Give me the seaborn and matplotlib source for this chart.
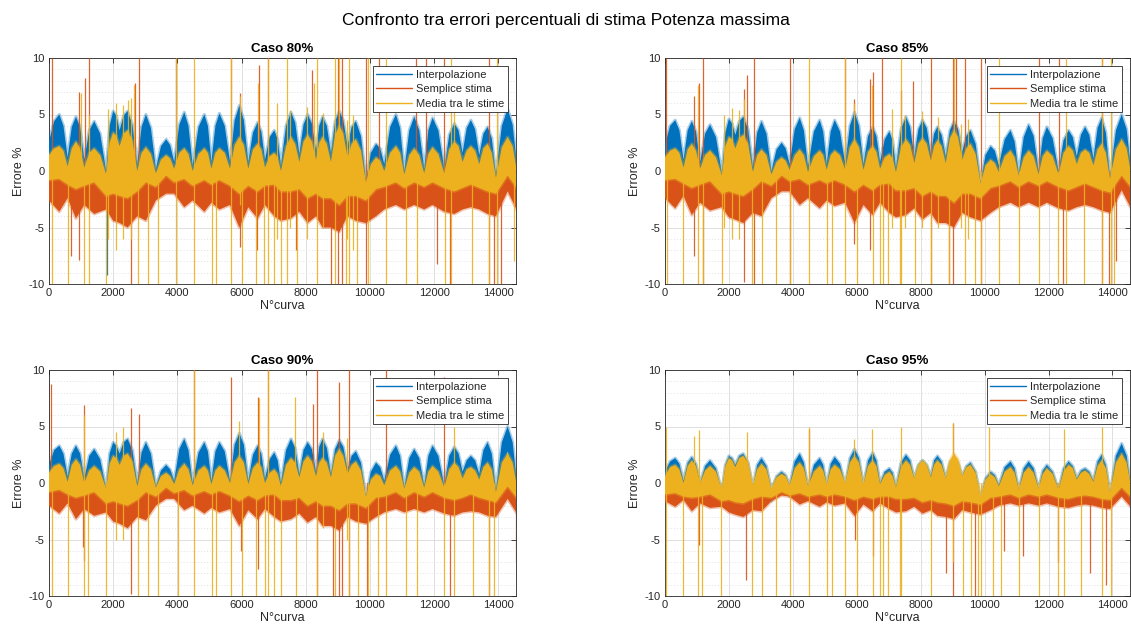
import matplotlib
matplotlib.use("Agg")
import matplotlib.pyplot as plt
from matplotlib.lines import Line2D
from matplotlib.ticker import MultipleLocator
import seaborn as sns

# Curve index at the alternating troughs/crests of the error pattern
curve_knots = [0, 320, 580, 840, 1100, 1410, 1780, 2000, 2200, 2450, 2750, 3020, 3330,
               3650, 3900, 4215, 4475, 4840, 5060, 5310, 5640, 5930, 6210, 6500, 6730,
               7020, 7227, 7540, 7800, 8060, 8320, 8525, 8785, 9045, 9300, 9560, 9875,
               10190, 10445, 10810, 11070, 11380, 11690, 11950, 12315, 12630, 12885,
               13145, 13405, 13665, 13925, 14290, 14600]
# Curve index of the arch shoulders, one between each pair of knots above
shoulder_knots = [160, 450, 710, 970, 1255, 1595, 1890, 2100, 2325, 2600, 2885, 3175, 3490,
                  3775, 4060, 4345, 4660, 4950, 5185, 5475, 5785, 6070, 6355, 6615, 6875, 7125,
                  7385, 7670, 7930, 8190, 8420, 8655, 8915, 9170, 9430, 9720, 10030, 10320,
                  10630, 10940, 11225, 11535, 11820, 12130, 12470, 12760, 13015, 13275, 13535,
                  13795, 14110, 14445]

cases = ["Caso 80%", "Caso 85%", "Caso 90%", "Caso 95%"]
series_names = ["Interpolazione", "Semplice stima", "Media tra le stime"]

# ---------------- Caso 80% ----------------
interp_hi_80 = [2.6, 5.0, 1.2, 4.8, 1.0, 4.4, 0.0, 5.3, 3.6, 5.3, 0.6, 5.0, 0.2, 2.8, 0.8, 5.2, 0.5, 5.0,
                0.8, 5.1, 0.8, 5.8, 0.8, 4.3, 1.0, 3.6, 0.5, 5.2, 1.5, 5.0, 1.8, 4.8, 1.6, 5.3, 2.2, 4.4,
                -0.8, 2.4, 0.6, 5.0, 0.0, 4.8, 0.2, 4.7, 0.2, 4.2, 1.6, 4.5, 1.4, 3.9, -0.3, 5.5, 0.0]
interp_sh_80 = [4.4, 4.0, 3.9, 3.9, 3.6, 3.3, 4.0, 4.9, 4.9, 4.1, 3.9, 3.8, 2.2, 2.3, 4.1, 4.0, 3.9, 4.0,
                4.0, 4.0, 4.5, 4.5, 3.4, 3.5, 3.0, 2.8, 4.0, 4.3, 4.1, 4.2, 4.0, 4.0, 4.4, 4.5, 3.9, 3.1,
                1.6, 2.0, 3.9, 3.8, 3.6, 3.6, 3.6, 3.6, 3.2, 3.6, 3.8, 3.7, 3.3, 2.9, 4.0, 4.1]
interp_lo_80 = [0.6, 1.8, 0.2, 1.6, 0.0, 1.3, -1.0, 2.0, 1.6, 2.0, -0.4, 1.8, -0.8, 0.8, -0.2, 2.0, -0.5, 1.8,
                -0.2, 1.9, -0.2, 2.4, -0.2, 1.2, 0.0, 0.8, -0.5, 2.0, 0.5, 1.8, 0.8, 1.6, 0.6, 2.0, 1.2, 1.2,
                -1.8, 0.6, -0.4, 1.8, -1.0, 1.6, -0.8, 1.5, -0.8, 1.1, 0.6, 1.4, 0.4, 0.9, -1.3, 2.3, -1.0]
stima_hi_80 = [-0.5, -0.4, -0.9, -1.0, -1.0, -0.7, -1.6, -1.2, -1.5, -1.4, -1.4, -0.7, -1.1, -0.1, -0.6,
               -0.4, -1.0, -0.5, -0.9, -0.5, -1.0, -1.2, -1.0, -1.2, -1.0, -0.9, -1.5, -1.2, -1.3, -1.6,
               -1.6, -1.6, -1.8, -2.0, -1.8, -1.6, -2.2, -1.3, -1.2, -0.8, -1.2, -0.8, -1.1, -0.8, -1.2,
               -1.3, -1.2, -0.9, -1.2, -1.1, -1.8, 0.5, -1.4]
stima_lo_80 = [-2.6, -3.6, -2.4, -4.2, -3.0, -3.8, -3.4, -4.4, -4.6, -5.0, -4.0, -4.4, -2.6, -2.0, -2.0,
               -3.2, -2.6, -3.6, -2.8, -3.4, -3.0, -5.0, -3.2, -4.2, -3.0, -4.0, -4.4, -4.2, -3.6, -4.6,
               -4.0, -5.0, -5.0, -5.4, -4.0, -4.4, -4.6, -4.0, -3.4, -3.0, -3.4, -3.0, -3.4, -3.0, -3.6,
               -3.8, -3.4, -3.2, -3.4, -3.8, -4.0, -1.8, -3.6]
media_hi_80 = [1.4, 2.2, 0.4, 2.6, 0.3, 2.0, -0.3, 3.4, 2.2, 3.6, 0.0, 2.1, -0.2, 1.4, 0.2, 2.0, 0.0, 2.0,
               0.2, 2.0, 0.2, 3.0, 0.2, 2.4, 0.3, 1.6, 0.0, 3.0, 0.8, 3.2, 1.0, 3.0, 0.8, 4.0, 1.2, 2.8,
               -1.0, 1.2, 0.0, 2.2, -0.3, 2.0, -0.2, 2.1, -0.2, 2.6, 0.8, 2.2, 0.6, 2.4, -0.6, 3.0, -0.4]
media_sh_80 = [2.0, 1.8, 2.0, 2.0, 1.6, 1.4, 2.5, 3.1, 3.3, 2.7, 1.6, 1.5, 1.0, 1.1, 1.6, 1.5, 1.5, 1.6,
               1.6, 1.6, 2.3, 2.3, 1.9, 1.9, 1.3, 1.2, 2.2, 2.4, 2.6, 2.6, 2.5, 2.4, 3.2, 3.3, 2.4, 1.8,
               0.6, 0.9, 1.6, 1.6, 1.4, 1.4, 1.5, 1.5, 1.9, 2.2, 1.8, 1.8, 2.0, 1.6, 2.1, 2.2]
media_lo_80 = [-0.8, -0.7, -1.2, -1.6, -1.3, -1.0, -2.2, -2.0, -2.2, -2.4, -1.8, -1.0, -1.4, -0.4, -1.0,
               -0.7, -1.3, -0.8, -1.2, -0.8, -1.3, -2.0, -1.3, -1.8, -1.3, -1.2, -1.8, -1.8, -1.6, -2.4,
               -2.0, -2.4, -2.4, -3.0, -2.2, -2.2, -2.6, -1.6, -1.4, -1.0, -1.5, -1.0, -1.4, -1.0, -1.5,
               -1.8, -1.5, -1.2, -1.5, -1.8, -2.0, -0.4, -1.6]
# isolated outliers: (curve, from, to)
interp_spikes_80 = [(1796, -9.2, 0.0)]
stima_spikes_80 = [(95, 0, 10), (690, -7.5, 0), (945, -7.9, 7.0), (1120, 0, 8.2), (1250, 0, 10),
                   (2550, -10, 0), (2680, 0, 7.8), (2810, 0, 10), (3950, 0, 10), (5670, 0, 10),
                   (5960, -6.7, 6.9), (6470, -7.0, 0), (6540, 0, 9.4), (6810, 0, 10), (7690, -7.0, 0),
                   (8200, 0, 8.9), (8780, -10, 0), (9000, -10, 10), (9120, -10, 10), (9880, -10, 10),
                   (10280, 0, 10), (11430, 0, 10), (11740, 0, 10), (12100, -8.2, 0), (12310, 0, 10),
                   (12500, -10, 0), (13700, -10, 10), (13880, -10, 0), (14070, -10, 0)]
media_spikes_80 = [(90, -10, 0), (580, -10, 0), (990, 0, 6.9), (1080, -10, 0), (1250, -10, 5.0),
                   (1780, -10, 0), (1850, -6, 5.5), (2100, -7, 6.0), (2300, -6, 5.8), (2470, 0, 6.3),
                   (2560, -6, 6.5), (2650, 0, 7.6), (2760, -10, 0), (3070, -10, 0),
                   (3390, -10, 0), (3950, -10, 10), (4520, -10, 10), (5090, -10, 0), (5200, -10, 0),
                   (5670, -10, 10), (5950, -3, 6.6), (6010, -10, 0), (6450, -10, 0), (6520, 0, 7.8),
                   (6710, -10, 0), (6810, -10, 10), (7020, -10, 0), (7090, -6, 6.0), (7230, -10, 0),
                   (7410, -10, 10), (7507, -5, 5.4), (7730, -10, 0), (8026, -6, 5.7), (8250, 0, 7.8),
                   (8350, -10, 10), (8545, -5, 5.1), (8910, -10, 10), (9050, 0, 10),
                   (9250, -10, 0), (9270, -6, 4.5), (9360, -10, 10), (9480, -7, 5.0), (9610, -10, 0),
                   (9940, -10, 10), (10500, -10, 10),
                   (11120, -10, 0), (11450, -10, 0), (12330, -10, 0), (12540, -10, 10), (12620, 0, 7.8),
                   (13170, -10, 0), (13720, -10, 0), (13970, -10, 10), (14480, -8, 0)]

# ---------------- Caso 85% ----------------
interp_hi_85 = [2.3, 4.5, 1.0, 4.4, 0.8, 4.1, -0.2, 4.6, 3.2, 4.8, 0.4, 4.4, 0.0, 2.5, 0.6, 4.7, 0.4, 4.5,
                0.6, 4.5, 0.6, 5.2, 0.6, 3.9, 0.8, 3.5, 0.3, 4.8, 1.3, 4.5, 1.5, 3.9, 1.3, 4.4, 1.7, 3.6,
                -1.0, 2.2, 0.5, 3.6, -0.2, 4.1, 0.0, 3.9, 0.0, 3.6, 1.3, 3.9, 1.1, 4.7, -0.5, 5.0, -0.3]
interp_sh_85 = [4.0, 3.6, 3.6, 3.5, 3.3, 3.0, 3.4, 4.2, 4.4, 3.7, 3.4, 3.3, 1.9, 2.0, 3.7, 3.6, 3.5, 3.5,
                3.5, 3.5, 4.0, 4.0, 3.1, 3.1, 2.8, 2.7, 3.7, 3.9, 3.7, 3.8, 3.3, 3.2, 3.6, 3.7, 3.1, 2.4,
                1.4, 1.8, 2.8, 2.6, 3.0, 3.1, 2.9, 2.9, 2.7, 3.0, 3.2, 3.2, 3.8, 3.4, 3.6, 3.7]
interp_lo_85 = [0.4, 1.6, 0.0, 1.5, -0.2, 1.2, -1.2, 1.7, 1.4, 1.9, -0.6, 1.5, -1.0, 0.6, -0.4, 1.8, -0.6, 1.6,
                -0.4, 1.6, -0.4, 2.3, -0.4, 1.0, -0.2, 0.6, -0.7, 1.9, 0.3, 1.6, 0.5, 1.0, 0.3, 1.5, 0.7, 0.7,
                -2.0, 0.4, -0.5, 0.7, -1.2, 1.2, -1.0, 1.0, -1.0, 0.7, 0.3, 1.0, 0.1, 1.8, -1.5, 2.1, -1.3]
stima_hi_85 = [-0.5, -0.4, -0.8, -1.0, -0.9, -0.6, -1.5, -1.1, -1.4, -1.3, -1.3, -0.6, -1.0, -0.1, -0.6,
               -0.4, -0.9, -0.5, -0.8, -0.5, -0.9, -1.1, -0.9, -1.1, -0.9, -0.8, -1.4, -1.1, -1.2, -1.5,
               -1.5, -1.5, -1.7, -1.9, -1.7, -1.5, -2.0, -1.2, -1.1, -0.7, -1.1, -0.7, -1.0, -0.7, -1.1,
               -1.2, -1.1, -0.8, -1.1, -1.0, -1.7, 0.4, -1.3]
stima_lo_85 = [-2.4, -3.3, -2.2, -3.9, -2.8, -3.5, -3.2, -4.1, -4.3, -4.6, -3.7, -4.0, -2.4, -1.8, -1.8,
               -3.0, -2.4, -3.3, -2.6, -3.1, -2.8, -4.6, -3.0, -3.9, -2.8, -3.7, -4.1, -3.9, -3.3, -4.3,
               -3.7, -4.6, -4.6, -5.0, -3.7, -4.1, -4.4, -3.7, -3.2, -2.8, -3.2, -2.8, -3.2, -2.8, -3.3,
               -3.5, -3.2, -3.0, -3.2, -3.5, -3.7, -1.7, -3.4]
media_hi_85 = [1.2, 2.0, 0.3, 2.4, 0.2, 1.8, -0.4, 3.0, 2.0, 3.2, -0.1, 1.9, -0.3, 1.2, 0.1, 1.9, -0.1, 1.8,
               0.1, 1.8, 0.1, 2.8, 0.1, 2.2, 0.2, 1.5, -0.1, 2.8, 0.7, 2.9, 0.9, 2.7, 0.7, 3.6, 1.0, 2.4,
               -1.1, 1.0, -0.1, 1.8, -0.4, 1.8, -0.3, 1.8, -0.3, 2.2, 0.6, 1.9, 0.5, 2.4, -0.7, 2.8, -0.5]
media_sh_85 = [1.8, 1.6, 1.9, 1.8, 1.4, 1.2, 2.2, 2.8, 2.9, 2.4, 1.4, 1.4, 0.8, 0.9, 1.4, 1.4, 1.3, 1.4,
               1.4, 1.4, 2.1, 2.1, 1.7, 1.7, 1.2, 1.1, 2.1, 2.3, 2.4, 2.4, 2.2, 2.2, 2.9, 3.0, 2.0, 1.5,
               0.5, 0.7, 1.3, 1.2, 1.2, 1.3, 1.3, 1.3, 1.6, 1.8, 1.6, 1.6, 1.9, 1.6, 1.9, 2.0]
media_lo_85 = [-0.8, -0.7, -1.1, -1.5, -1.2, -0.9, -2.0, -1.8, -2.0, -2.2, -1.6, -0.9, -1.3, -0.4, -0.9,
               -0.7, -1.2, -0.8, -1.1, -0.8, -1.2, -1.8, -1.2, -1.7, -1.2, -1.1, -1.7, -1.7, -1.5, -2.2,
               -1.8, -2.2, -2.2, -2.8, -2.0, -2.0, -2.4, -1.5, -1.3, -0.9, -1.4, -0.9, -1.3, -0.9, -1.4,
               -1.7, -1.4, -1.1, -1.4, -1.7, -1.9, -0.4, -1.5]
interp_spikes_85 = []
stima_spikes_85 = [(40, 0, 10), (913, -7.5, 6.6), (1069, 0, 7.8), (1204, -10, 10), (2470, -9.8, 7.3),
                   (2560, 0, 8.5), (2780, -10, 10), (3925, -10, 10), (5636, 0, 10), (5900, -6.5, 6.4),
                   (6420, -7.0, 8.1), (6520, 0, 8.8), (6778, 0, 10), (7400, 0, 7.2), (7750, 0, 8.0),
                   (8337, -10, 10), (8900, -10, 0), (9010, -10, 10), (9110, 0, 10), (9375, 0, 10),
                   (9894, -10, 10), (11710, 0, 10), (12333, 0, 10), (12450, -10, 0), (13683, -10, 10),
                   (13900, -10, 0), (14100, -8, 0)]
media_spikes_85 = [(60, -10, 0), (550, -10, 0), (1030, -10, 7.6), (1180, -10, 0), (1775, -10, 0),
                   (1850, -5, 5.0), (2100, -6, 5.6), (2300, -6, 5.4), (2470, 0, 6.4), (2730, -10, 0),
                   (3040, -10, 0), (3460, -10, 0), (3925, -10, 0),
                   (4494, -10, 10), (5065, -10, 0), (5220, -10, 0), (5636, -10, 10), (5900, 0, 6.0),
                   (6000, -10, 0), (6480, 0, 7.6), (6520, -10, 0), (6725, -10, 0), (6830, -10, 0),
                   (6985, -10, 0), (7090, -5, 5.5), (7350, -10, 0), (7400, -10, 10), (7507, -5, 5.0),
                   (7818, -10, 0), (8026, -5, 5.3), (8337, -10, 0), (8545, -5, 4.8),
                   (8900, -10, 0), (9040, 0, 10), (9270, -5, 4.2), (9375, -10, 0), (9480, -6, 4.6),
                   (9687, -10, 0), (9894, -10, 0),
                   (10465, -10, 10), (11088, -10, 0), (11710, -10, 0), (12282, -10, 0), (12541, -10, 10),
                   (13112, -10, 0), (13683, -10, 10), (13942, -10, 10), (14060, -10, 0)]

# ---------------- Caso 90% ----------------
interp_hi_90 = [1.6, 3.3, 0.6, 3.3, 0.4, 3.0, -0.5, 3.6, 2.6, 3.9, 0.0, 3.6, -0.3, 1.6, 0.2, 3.9, 0.0, 3.6,
                0.2, 3.6, 0.2, 4.4, 0.2, 3.3, 0.4, 2.7, 0.0, 3.9, 0.8, 3.6, 1.0, 3.9, 0.8, 3.8, 1.2, 2.8,
                -1.2, 1.8, 0.2, 3.3, -0.4, 3.0, -0.2, 3.3, -0.2, 3.2, 1.0, 2.4, 0.8, 3.6, -0.6, 5.0, -0.5]
interp_sh_90 = [2.9, 2.6, 2.6, 2.6, 2.4, 2.1, 2.6, 3.3, 3.6, 2.9, 2.7, 2.6, 1.1, 1.2, 3.0, 2.9, 2.7, 2.8,
                2.8, 2.8, 3.4, 3.4, 2.5, 2.6, 2.1, 2.0, 2.9, 3.1, 2.9, 3.0, 3.2, 3.1, 3.0, 3.2, 2.4, 1.8,
                1.0, 1.4, 2.5, 2.4, 2.2, 2.2, 2.4, 2.4, 2.4, 2.6, 2.0, 2.0, 2.9, 2.6, 3.6, 3.6]
interp_lo_90 = [-0.2, 1.1, -0.3, 1.1, -0.5, 0.8, -1.4, 1.4, 1.2, 1.7, -0.9, 1.4, -1.2, 0.4, -0.7, 1.7, -0.9, 1.4,
                -0.7, 1.4, -0.7, 2.2, -0.7, 1.1, -0.5, 0.5, -0.9, 1.7, -0.1, 1.4, 0.1, 1.7, -0.1, 1.6, 0.3, 0.6,
                -2.1, 0.4, -0.7, 1.1, -1.3, 0.8, -1.1, 1.1, -1.1, 1.0, 0.1, 0.2, -0.1, 1.4, -1.5, 2.8, -1.4]
stima_hi_90 = [-0.5, -0.3, -0.7, -1.0, -0.8, -0.5, -1.5, -1.3, -1.5, -1.7, -1.2, -0.5, -0.9, -0.1, -0.6,
               -0.3, -0.8, -0.4, -0.7, -0.4, -0.8, -1.3, -0.8, -1.2, -0.8, -0.7, -1.2, -1.2, -1.0, -1.7,
               -1.3, -1.7, -1.7, -2.1, -1.5, -1.5, -1.9, -1.0, -0.9, -0.5, -1.0, -0.5, -0.9, -0.5, -1.0,
               -1.2, -1.0, -0.7, -1.0, -1.2, -1.4, 0.8, -1.1]
stima_lo_90 = [-2.0, -2.7, -1.8, -3.2, -2.3, -2.9, -2.6, -3.4, -3.6, -4.0, -3.0, -3.3, -2.0, -1.4, -1.4,
               -2.4, -2.0, -2.7, -2.2, -2.6, -2.3, -3.8, -2.4, -3.2, -2.3, -3.0, -3.4, -3.2, -2.7, -3.5,
               -3.0, -3.8, -3.8, -4.2, -3.0, -3.4, -3.6, -3.0, -2.6, -2.3, -2.6, -2.3, -2.6, -2.3, -2.7,
               -2.9, -2.6, -2.5, -2.6, -2.9, -3.0, -1.4, -2.8]
media_hi_90 = [0.9, 1.7, 0.1, 2.1, 0.0, 1.5, -0.5, 2.4, 1.6, 2.6, -0.3, 1.7, -0.4, 0.9, -0.1, 1.7, -0.2, 1.5,
               -0.1, 1.5, 0.0, 2.4, -0.1, 1.8, 0.0, 1.2, -0.3, 2.2, 0.5, 2.4, 0.6, 2.2, 0.5, 3.0, 0.8, 1.9,
               -1.2, 0.8, -0.2, 1.5, -0.5, 1.4, -0.4, 1.5, -0.4, 1.8, 0.4, 1.4, 0.3, 1.8, -0.8, 2.6, -0.6]
media_sh_90 = [1.5, 1.3, 1.6, 1.6, 1.1, 1.0, 1.7, 2.2, 2.4, 1.9, 1.2, 1.2, 0.6, 0.6, 1.2, 1.2, 1.1, 1.1,
               1.1, 1.1, 1.8, 1.8, 1.3, 1.4, 0.9, 0.8, 1.6, 1.8, 1.9, 1.9, 1.8, 1.8, 2.4, 2.4, 1.6, 1.1,
               0.3, 0.6, 1.1, 1.0, 0.9, 1.0, 1.0, 1.0, 1.2, 1.4, 1.2, 1.1, 1.4, 1.2, 1.8, 1.8]
media_lo_90 = [-0.8, -0.6, -1.0, -1.3, -1.1, -0.8, -1.8, -1.6, -1.8, -2.0, -1.5, -0.8, -1.2, -0.4, -0.9,
               -0.6, -1.1, -0.7, -1.0, -0.7, -1.1, -1.6, -1.1, -1.5, -1.1, -1.0, -1.5, -1.5, -1.3, -2.0,
               -1.6, -2.0, -2.0, -2.4, -1.8, -1.8, -2.2, -1.3, -1.2, -0.8, -1.3, -0.8, -1.2, -0.8, -1.3,
               -1.5, -1.3, -1.0, -1.3, -1.5, -1.7, -0.3, -1.4]
interp_spikes_90 = []
stima_spikes_90 = [(62, 0, 8.8), (1050, -5.7, 0), (1100, -6.9, 6.9), (2560, -9.8, 6.6), (2800, 0, 6.1),
                   (4526, 0, 10), (5668, 0, 9.4), (5990, -6.0, 0), (6500, -7.6, 7.6), (6830, 0, 10),
                   (8213, 0, 7.0), (8348, -10, 10), (8850, -10, 0), (9044, -10, 8.9), (9130, -10, 0),
                   (9355, -10, 10), (9905, -10, 0), (10497, 0, 10), (12313, 0, 9.4), (12500, -10, 0),
                   (13700, -10, 0), (14540, -7.0, 0)]
media_spikes_90 = [(90, -10, 0), (580, -10, 0), (1080, -10, 6.0), (1200, -10, 0), (1780, -10, 0),
                   (2100, -5, 4.5), (2300, -5, 5.0), (2760, -10, 0), (3070, -10, 0), (3390, -10, 0),
                   (4010, -10, 0), (4526, -10, 10),
                   (5090, -10, 0), (5200, -10, 0), (5668, -10, 0), (5920, 0, 5.5), (6010, -10, 0),
                   (6450, -10, 0), (6550, 0, 7.5), (6720, -10, 0), (6830, -10, 10), (7020, -10, 0),
                   (7230, -10, 0), (7650, 0, 7.6), (7694, -10, 0), (8348, -10, 0), (8545, -4, 4.5),
                   (8909, -10, 0), (9270, -5, 4.0),
                   (9355, -10, 0), (9614, -10, 0), (9945, -10, 0), (10240, -10, 0), (10497, -10, 0),
                   (11120, -10, 0), (11480, -10, 0), (12313, -10, 0), (12620, -10, 5.0), (13200, -10, 0),
                   (13720, -10, 0), (13870, -10, 0)]

# ---------------- Caso 95% ----------------
interp_hi_95 = [1.0, 2.2, 0.2, 2.3, 0.0, 2.0, -0.8, 2.4, 1.6, 2.6, -0.4, 2.2, -0.6, 1.0, -0.2, 2.6, -0.4, 2.2,
                -0.2, 2.3, -0.2, 3.0, -0.2, 2.7, 0.0, 1.3, -0.4, 2.5, 0.4, 2.0, 0.6, 2.4, 0.4, 2.2, 0.6, 1.8,
                -1.4, 1.0, -0.2, 1.9, -0.6, 1.9, -0.5, 1.6, -0.6, 1.9, 0.4, 1.3, 0.2, 2.5, -1.0, 3.5, -0.8]
interp_sh_95 = [1.9, 1.7, 1.8, 1.7, 1.5, 1.3, 1.6, 2.2, 2.4, 1.8, 1.6, 1.5, 0.6, 0.7, 1.9, 1.8, 1.6, 1.6,
                1.7, 1.7, 2.2, 2.2, 2.0, 2.0, 1.0, 0.9, 1.8, 2.0, 1.6, 1.6, 2.0, 1.9, 1.8, 1.8, 1.5, 1.0,
                0.4, 0.7, 1.4, 1.3, 1.3, 1.3, 1.1, 1.0, 1.3, 1.5, 1.1, 1.0, 1.9, 1.6, 2.4, 2.4]
interp_lo_95 = [-0.4, 0.6, -0.8, 0.7, -1.0, 0.4, -1.8, 0.8, 0.6, 1.0, -1.2, 0.6, -1.6, 0.0, -1.2, 1.0, -1.4, 0.6,
                -1.2, 0.7, -1.2, 1.4, -1.2, 1.1, -1.0, 0.3, -1.4, 0.9, -0.6, 0.4, -0.4, 0.8, -0.6, 0.6, -0.4, 0.2,
                -2.4, 0.0, -1.2, 0.3, -1.6, 0.3, -1.5, 0.0, -1.6, 0.3, -0.6, -0.3, -0.8, 0.9, -2.0, 1.9, -1.8]
stima_hi_95 = [-0.7, -0.6, -0.9, -1.0, -0.9, -0.7, -1.3, -1.2, -1.4, -1.5, -1.1, -0.9, -1.0, -0.5, -0.8,
               -0.6, -0.9, -0.7, -0.9, -0.7, -0.9, -1.2, -0.9, -1.1, -0.9, -0.9, -1.1, -1.1, -1.0, -1.4,
               -1.2, -1.4, -1.5, -1.7, -1.3, -1.4, -1.6, -1.0, -0.9, -0.7, -1.0, -0.7, -0.9, -0.7, -1.0,
               -1.1, -0.9, -0.8, -0.9, -1.1, -1.2, 0.9, -1.0]
stima_lo_95 = [-1.6, -2.1, -1.5, -2.5, -1.8, -2.2, -2.1, -2.6, -2.8, -3.0, -2.4, -2.5, -1.6, -1.1, -1.2,
               -1.9, -1.6, -2.1, -1.7, -2.0, -1.8, -2.9, -1.9, -2.5, -1.8, -2.3, -2.6, -2.5, -2.1, -2.7,
               -2.4, -2.9, -3.0, -3.2, -2.4, -2.6, -2.8, -2.4, -2.0, -1.8, -2.0, -1.8, -2.0, -1.8, -2.1,
               -2.2, -2.0, -1.9, -2.0, -2.2, -2.3, -1.2, -2.2]
media_hi_95 = [0.6, 1.6, 0.0, 2.0, 0.0, 1.5, -0.6, 2.2, 1.4, 2.4, -0.2, 1.7, -0.5, 0.8, -0.2, 1.8, -0.3, 1.5,
               -0.1, 1.6, 0.0, 2.4, -0.1, 2.0, -0.1, 1.0, -0.4, 2.0, 0.4, 2.0, 0.5, 2.0, 0.4, 2.6, 0.6, 1.6,
               -1.2, 0.8, -0.3, 1.4, -0.6, 1.4, -0.5, 1.3, -0.6, 1.6, 0.3, 1.1, 0.1, 2.0, -0.8, 2.6, -0.6]
media_sh_95 = [1.4, 1.2, 1.5, 1.5, 1.1, 1.0, 1.5, 2.0, 2.2, 1.8, 1.2, 1.2, 0.5, 0.6, 1.3, 1.3, 1.0, 1.1,
               1.2, 1.2, 1.8, 1.8, 1.5, 1.5, 0.7, 0.6, 1.4, 1.6, 1.6, 1.6, 1.6, 1.6, 2.0, 2.1, 1.4, 0.9,
               0.3, 0.5, 1.0, 0.9, 0.9, 0.9, 0.8, 0.8, 1.0, 1.3, 0.9, 0.8, 1.5, 1.3, 1.8, 1.8]
media_lo_95 = [-1.0, -0.9, -1.2, -1.3, -1.2, -1.0, -1.6, -1.5, -1.7, -1.8, -1.4, -1.2, -1.3, -0.8, -1.1,
               -0.9, -1.2, -1.0, -1.2, -1.0, -1.2, -1.5, -1.2, -1.4, -1.2, -1.2, -1.4, -1.4, -1.3, -1.7,
               -1.5, -1.7, -1.8, -2.0, -1.6, -1.7, -1.9, -1.3, -1.2, -1.0, -1.3, -1.0, -1.2, -1.0, -1.3,
               -1.4, -1.2, -1.1, -1.2, -1.4, -1.5, -0.4, -1.3]
interp_spikes_95 = []
stima_spikes_95 = [(1050, -5.5, 0), (2520, -8.6, 0), (4500, 0, 4.8), (5950, -5.0, 0), (6520, -6.5, 0),
                   (8800, -8.0, 0), (9000, -10, 5.3), (9700, -10, 0), (10600, -6.0, 0), (11200, -6.5, 0),
                   (12300, -7.0, 0), (13300, -8.0, 0), (13800, -9.0, 0)]
media_spikes_95 = [(20, -10, 5.0), (550, -10, 0), (910, 0, 4.2), (1017, -10, 0), (1070, 0, 4.7),
                   (1173, -10, 0), (1744, -10, 0), (2570, 0, 4.5), (2730, -10, 0), (3042, -10, 0),
                   (3458, -10, 0), (3925, -10, 0), (4496, -10, 5.0), (5067, -10, 0), (5223, -10, 0),
                   (5638, -10, 0), (5900, 0, 3.9), (6002, -10, 0), (6470, 0, 4.8), (6521, -10, 0),
                   (6728, -10, 0), (6832, -10, 0), (6988, -10, 0), (7351, -10, 0), (7400, -10, 5.0),
                   (8337, -10, 0), (9010, -7, 5.3), (9323, -10, 0), (9580, -10, 0), (9790, -10, 0),
                   (9900, -10, 0), (10153, 0, 5.0), (10258, -10, 0), (10517, -10, 0), (11088, -10, 0),
                   (11710, -10, 0), (12282, -10, 0), (12489, -10, 4.8), (13008, -10, 0), (13683, -10, 5.0),
                   (13942, -10, 0)]

panel_data = [
    (interp_hi_80, interp_sh_80, interp_lo_80, stima_hi_80, stima_lo_80, media_hi_80, media_sh_80,
     media_lo_80, interp_spikes_80, stima_spikes_80, media_spikes_80),
    (interp_hi_85, interp_sh_85, interp_lo_85, stima_hi_85, stima_lo_85, media_hi_85, media_sh_85,
     media_lo_85, interp_spikes_85, stima_spikes_85, media_spikes_85),
    (interp_hi_90, interp_sh_90, interp_lo_90, stima_hi_90, stima_lo_90, media_hi_90, media_sh_90,
     media_lo_90, interp_spikes_90, stima_spikes_90, media_spikes_90),
    (interp_hi_95, interp_sh_95, interp_lo_95, stima_hi_95, stima_lo_95, media_hi_95, media_sh_95,
     media_lo_95, interp_spikes_95, stima_spikes_95, media_spikes_95),
]

# ---------------- styling ----------------
BLUE, ORANGE, YELLOW = "#0072BD", "#D95319", "#EDB120"
INK = "#262626"
sns.set_style("white")
plt.rcParams["font.family"] = ["Liberation Sans", "DejaVu Sans"]
plt.rcParams["axes.unicode_minus"] = False

W, H = 1131, 633
fig = plt.figure(figsize=(W / 100, H / 100), dpi=100)
boxes = [(49, 58, 467, 226), (665, 58, 465, 226), (49, 370, 467, 226), (665, 370, 465, 226)]


def arch_edge(peaks, shoulders):
    """Interleave knot values with the shoulder values between them."""
    xs, ys = [], []
    for i, (xk, yk) in enumerate(zip(curve_knots, peaks)):
        xs.append(xk)
        ys.append(yk)
        if i < len(shoulder_knots):
            xs.append(shoulder_knots[i])
            ys.append(shoulders[i])
    return xs, ys


def draw_band(ax, x_top, top, x_bot, bot, color, z):
    poly_x = list(x_top) + list(x_bot)[::-1]
    poly_y = list(top) + list(bot)[::-1]
    ax.fill(poly_x, poly_y, color=color, linewidth=0, zorder=z)
    # soft fringe along both envelopes
    for xe, ye in ((x_top, top), (x_bot, bot)):
        sns.lineplot(x=xe, y=ye, ax=ax, color=color, linewidth=2.2,
                     alpha=0.35, legend=False, zorder=z)


def draw_spikes(ax, spikes, color, z):
    if not spikes:
        return
    ax.vlines([s[0] for s in spikes], [s[1] for s in spikes], [s[2] for s in spikes],
              color=color, linewidth=0.9, alpha=0.9, zorder=z)


for (l, t, w, h), title, data in zip(boxes, cases, panel_data):
    ax = fig.add_axes([l / W, 1 - (t + h) / H, w / W, h / H])
    ihi, ish, ilo, shi, slo, mhi, msh, mlo, isp, ssp, msp = data

    xi, yi = arch_edge(ihi, ish)
    draw_band(ax, xi, yi, curve_knots, ilo, BLUE, 3)
    draw_spikes(ax, isp, BLUE, 3.1)
    draw_band(ax, curve_knots, shi, curve_knots, slo, ORANGE, 4)
    draw_spikes(ax, ssp, ORANGE, 4.1)
    xm, ym = arch_edge(mhi, msh)
    draw_band(ax, xm, ym, curve_knots, mlo, YELLOW, 5)
    draw_spikes(ax, msp, YELLOW, 5.1)

    ax.set_xlim(0, 14550)
    ax.set_ylim(-10, 10)
    ax.set_xticks(range(0, 14001, 2000))
    ax.set_yticks([-10, -5, 0, 5, 10])
    ax.yaxis.set_minor_locator(MultipleLocator(1))
    ax.set_axisbelow(True)
    ax.grid(which="major", color="#dedede", linewidth=0.7)
    ax.grid(which="minor", axis="y", color="#e2e2e2", linestyle=(0, (1, 2)), linewidth=0.7)
    ax.tick_params(which="major", direction="in", length=3.5, width=0.6, color=INK,
                   labelsize=8, labelcolor=INK, top=True, right=True, pad=3)
    ax.tick_params(which="minor", length=0)
    for sp in ax.spines.values():
        sp.set_color(INK)
        sp.set_linewidth(0.6)
    ax.set_xlabel("N°curva", fontsize=9, color=INK, labelpad=1)
    ax.set_ylabel("Errore %", fontsize=9, color=INK, labelpad=3)
    ax.set_title(title, fontsize=9.5, fontweight="bold", color="black", pad=4)

    handles = [Line2D([], [], color=c, linewidth=1.0) for c in (BLUE, ORANGE, YELLOW)]
    leg = ax.legend(handles, series_names, loc="upper right", fontsize=8, frameon=True,
                    fancybox=False, edgecolor=INK, framealpha=1, borderaxespad=0.75,
                    handlelength=3.2, handletextpad=0.4, borderpad=0.3, labelspacing=0.42)
    leg.get_frame().set_linewidth(0.6)
    leg.set_zorder(10)

fig.text(0.5, 1 - 20 / H, "Confronto tra errori percentuali di stima Potenza massima",
         ha="center", va="center", fontsize=12.6, color="black")

fig.savefig("out.png", dpi=100)
